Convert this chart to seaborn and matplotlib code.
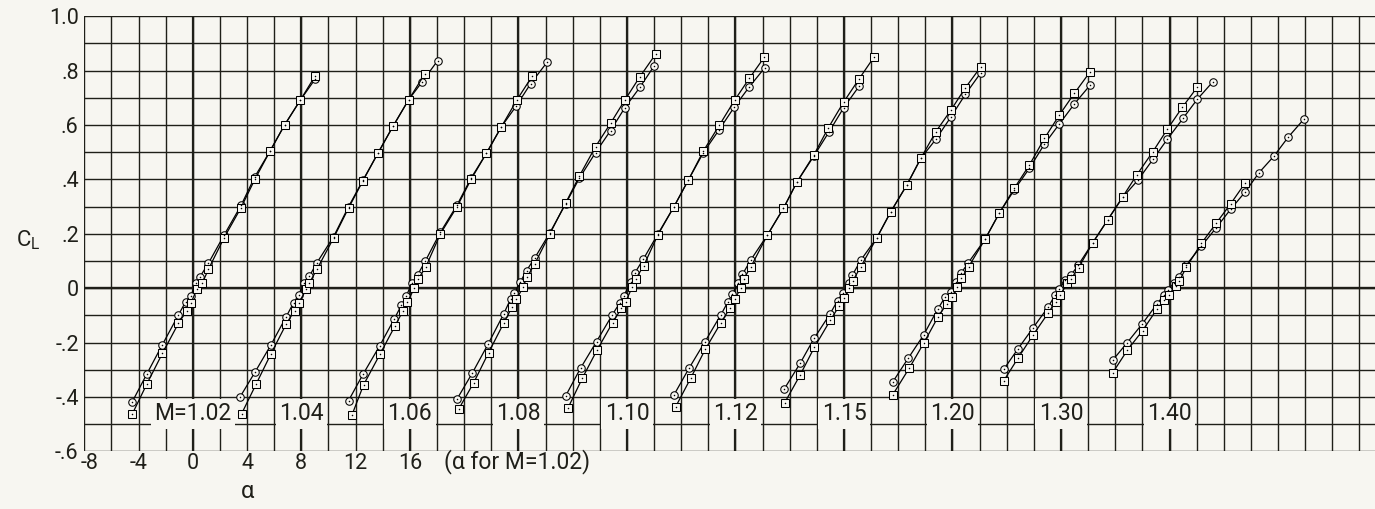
import numpy as np
import pandas as pd
import matplotlib
matplotlib.use("Agg")
import matplotlib.pyplot as plt
import matplotlib.transforms as mtransforms
import seaborn as sns

# Mach numbers of the runs; each curve is shifted 8 deg to the right of the previous one
MACH = ["1.02", "1.04", "1.06", "1.08", "1.10", "1.12", "1.15", "1.20", "1.30", "1.40"]
MACH_LABELS = ["M=1.02", "1.04", "1.06", "1.08", "1.10", "1.12", "1.15", "1.20", "1.30", "1.40"]

# circle symbols: angle of attack (deg) and lift coefficient
CIRCLE_ALPHA = {
    "1.02": [-4.46, -3.39, -2.24, -1.06, -0.52, -0.15, 0.24, 0.54, 1.15, 2.30, 3.56, 4.57, 5.70, 6.76, 7.93, 9.03],
    "1.04": [-4.51, -3.40, -2.24, -1.11, -0.57, -0.20, 0.21, 0.60, 1.15, 2.38, 3.48, 4.55, 5.65, 6.75, 7.91, 8.92, 10.05],
    "1.06": [-4.52, -3.45, -2.23, -1.14, -0.63, -0.26, 0.16, 0.58, 1.14, 2.25, 3.48, 4.51, 5.65, 6.75, 7.84, 8.90, 10.13],
    "1.08": [-4.52, -3.41, -2.23, -1.08, -0.58, -0.29, 0.15, 0.60, 1.19, 2.32, 3.48, 4.50, 5.69, 6.80, 7.85, 8.96, 10.00],
    "1.10": [-4.52, -3.42, -2.24, -1.08, -0.52, -0.22, 0.27, 0.57, 1.21, 2.29, 3.47, 4.53, 5.64, 6.79, 7.90, 9.03, 10.15],
    "1.12": [-4.53, -3.42, -2.24, -1.08, -0.54, -0.22, 0.19, 0.52, 1.13, 2.36, 3.54, 4.55, 5.78, 6.90, 7.97, 9.12],
    "1.15": [-4.41, -3.23, -2.20, -1.02, -0.47, -0.10, 0.34, 0.63, 1.25, 2.43, 3.46, 4.64, 5.67, 6.78, 7.90, 8.95, 10.10],
    "1.20": [-4.41, -3.26, -2.13, -1.09, -0.55, -0.11, 0.26, 0.63, 1.17, 2.40, 3.45, 4.56, 5.67, 6.78, 7.88, 8.99, 10.15],
    "1.30": [-4.22, -3.19, -2.08, -0.93, -0.44, -0.12, 0.30, 0.75, 1.28, 2.35, 3.45, 4.56, 5.68, 6.78, 7.84, 9.00, 10.05, 11.21],
    "1.40": [-4.18, -3.12, -2.01, -0.93, -0.42, -0.12, 0.32, 0.67, 1.23, 2.35, 3.45, 4.50, 5.59, 6.60, 7.70, 8.74, 9.89],
}
CIRCLE_CL = {
    "1.02": [-0.417, -0.315, -0.207, -0.098, -0.049, -0.028, 0.020, 0.043, 0.092, 0.195, 0.305, 0.410, 0.505, 0.600, 0.692, 0.770],
    "1.04": [-0.399, -0.307, -0.208, -0.104, -0.053, -0.025, 0.020, 0.045, 0.094, 0.190, 0.300, 0.398, 0.497, 0.595, 0.693, 0.760, 0.837],
    "1.06": [-0.413, -0.316, -0.212, -0.112, -0.063, -0.028, 0.020, 0.050, 0.100, 0.206, 0.306, 0.405, 0.497, 0.594, 0.670, 0.752, 0.832],
    "1.08": [-0.407, -0.313, -0.205, -0.094, -0.040, -0.018, 0.024, 0.065, 0.110, 0.204, 0.310, 0.405, 0.499, 0.580, 0.664, 0.739, 0.817],
    "1.10": [-0.396, -0.294, -0.196, -0.098, -0.053, -0.028, 0.024, 0.055, 0.107, 0.200, 0.300, 0.398, 0.499, 0.582, 0.665, 0.741, 0.810],
    "1.12": [-0.392, -0.294, -0.196, -0.098, -0.049, -0.021, 0.020, 0.051, 0.104, 0.196, 0.294, 0.392, 0.486, 0.575, 0.663, 0.743],
    "1.15": [-0.371, -0.276, -0.184, -0.094, -0.045, -0.018, 0.018, 0.049, 0.104, 0.186, 0.282, 0.380, 0.478, 0.548, 0.631, 0.713, 0.793],
    "1.20": [-0.345, -0.257, -0.172, -0.077, -0.033, -0.012, 0.024, 0.055, 0.094, 0.180, 0.276, 0.362, 0.441, 0.530, 0.604, 0.678, 0.747],
    "1.30": [-0.298, -0.224, -0.147, -0.068, -0.025, -0.004, 0.030, 0.049, 0.086, 0.168, 0.252, 0.335, 0.398, 0.474, 0.548, 0.625, 0.695, 0.760],
    "1.40": [-0.264, -0.200, -0.131, -0.058, -0.025, -0.006, 0.021, 0.043, 0.086, 0.155, 0.223, 0.290, 0.355, 0.425, 0.486, 0.555, 0.621],
}

# square symbols: angle of attack (deg) and lift coefficient
SQUARE_ALPHA = {
    "1.02": [-4.46, -3.39, -2.24, -1.06, -0.44, -0.15, 0.30, 0.69, 1.15, 2.30, 3.56, 4.57, 5.70, 6.76, 7.93, 9.03],
    "1.04": [-4.41, -3.33, -2.24, -1.11, -0.50, -0.20, 0.36, 0.60, 1.15, 2.38, 3.48, 4.55, 5.65, 6.75, 7.91, 9.10],
    "1.06": [-4.27, -3.41, -2.20, -1.10, -0.50, -0.18, 0.33, 0.60, 1.16, 2.25, 3.48, 4.51, 5.65, 6.75, 7.91, 9.02],
    "1.08": [-4.40, -3.29, -2.20, -1.06, -0.46, -0.14, 0.35, 0.62, 1.21, 2.32, 3.48, 4.50, 5.69, 6.80, 7.85, 8.96, 10.12],
    "1.10": [-4.35, -3.29, -2.20, -1.05, -0.41, -0.10, 0.40, 0.65, 1.23, 2.29, 3.47, 4.53, 5.64, 6.82, 7.95, 9.03, 10.12],
    "1.12": [-4.40, -3.30, -2.22, -1.06, -0.42, -0.05, 0.39, 0.60, 1.15, 2.36, 3.54, 4.55, 5.78, 6.86, 7.97, 9.12, 10.20],
    "1.15": [-4.36, -3.23, -2.18, -1.00, -0.35, 0.00, 0.40, 0.66, 1.25, 2.43, 3.46, 4.64, 5.67, 6.78, 7.90, 8.95, 10.10],
    "1.20": [-4.41, -3.19, -2.10, -1.05, -0.43, -0.05, 0.37, 0.66, 1.20, 2.40, 3.45, 4.56, 5.67, 6.78, 7.88, 8.99, 10.15],
    "1.30": [-4.22, -3.17, -2.06, -0.93, -0.40, -0.05, 0.45, 0.75, 1.30, 2.35, 3.45, 4.56, 5.59, 6.77, 7.83, 8.94, 10.04],
    "1.40": [-4.18, -3.10, -1.99, -0.93, -0.39, -0.05, 0.45, 0.70, 1.25, 2.35, 3.45, 4.50, 5.59],
}
SQUARE_CL = {
    "1.02": [-0.462, -0.352, -0.239, -0.129, -0.082, -0.055, -0.004, 0.018, 0.070, 0.185, 0.297, 0.400, 0.505, 0.600, 0.692, 0.782],
    "1.04": [-0.462, -0.352, -0.241, -0.131, -0.082, -0.055, -0.004, 0.020, 0.070, 0.185, 0.295, 0.396, 0.497, 0.595, 0.693, 0.788],
    "1.06": [-0.466, -0.355, -0.242, -0.139, -0.082, -0.050, 0.000, 0.033, 0.077, 0.200, 0.300, 0.400, 0.497, 0.594, 0.694, 0.780],
    "1.08": [-0.444, -0.347, -0.237, -0.126, -0.068, -0.040, 0.004, 0.040, 0.090, 0.200, 0.313, 0.413, 0.521, 0.607, 0.692, 0.778, 0.861],
    "1.10": [-0.441, -0.331, -0.227, -0.126, -0.074, -0.050, 0.005, 0.035, 0.082, 0.197, 0.300, 0.398, 0.505, 0.600, 0.692, 0.772, 0.849],
    "1.12": [-0.435, -0.331, -0.224, -0.126, -0.074, -0.040, 0.000, 0.033, 0.080, 0.196, 0.294, 0.392, 0.490, 0.591, 0.684, 0.770, 0.849],
    "1.15": [-0.420, -0.319, -0.217, -0.117, -0.065, -0.035, 0.000, 0.028, 0.080, 0.186, 0.282, 0.380, 0.478, 0.576, 0.656, 0.737, 0.815],
    "1.20": [-0.392, -0.294, -0.200, -0.104, -0.058, -0.032, 0.005, 0.037, 0.080, 0.180, 0.276, 0.368, 0.453, 0.551, 0.637, 0.717, 0.796],
    "1.30": [-0.340, -0.257, -0.172, -0.090, -0.049, -0.025, 0.018, 0.035, 0.076, 0.168, 0.252, 0.337, 0.417, 0.502, 0.584, 0.665, 0.739],
    "1.40": [-0.310, -0.227, -0.156, -0.077, -0.043, -0.025, 0.009, 0.025, 0.078, 0.165, 0.240, 0.310, 0.388],
}

X_TICKS = [-8, -4, 0, 4, 8, 12, 16]
X_TICK_LABELS = ["-8", "-4", "0", "4", "8", "12", "16"]
Y_TICKS = [1.0, 0.8, 0.6, 0.4, 0.2, 0.0, -0.2, -0.4, -0.6]
Y_TICK_LABELS = ["1.0", ".8", ".6", ".4", ".2", "0", "-.2", "-.4", "-.6"]

PAPER = "#f7f6f1"
INK = "#1f1f19"
SHIFT = 8.0  # deg between successive Mach curves

sns.set_theme(style="white")
plt.rcParams["font.family"] = ["Roboto", "DejaVu Sans"]
plt.rcParams["font.weight"] = "normal"

# long-form table: one row per plotted symbol
rows = []
for i, m in enumerate(MACH):
    for sym, A, C in (("circle", CIRCLE_ALPHA, CIRCLE_CL), ("square", SQUARE_ALPHA, SQUARE_CL)):
        for a, c in zip(A[m], C[m]):
            rows.append({"mach": m, "symbol": sym, "alpha": a + SHIFT * i, "CL": c})
df = pd.DataFrame(rows)
df["run"] = df["mach"] + "_" + df["symbol"]

fig = plt.figure(figsize=(13.75, 5.09), dpi=100, facecolor=PAPER)
x_lo, x_hi = -8.0, 87.25
ax = fig.add_axes([0.0613, 0.113, 1.0 - 0.0613 + 0.001, 0.855])
ax.set_facecolor(PAPER)
ax.set_xlim(x_lo, x_hi)
ax.set_ylim(-0.6, 1.0)

# graph-paper grid: 2 deg by 0.1 CL, heavier at CL = 0 and at each curve's alpha = 0
for xv in np.arange(-8, 88, 2):
    ax.axvline(xv, color=INK, lw=1.0, zorder=1)
for yv in np.round(np.arange(-0.6, 1.01, 0.1), 2):
    ax.axhline(yv, color=INK, lw=1.0, zorder=1)
for i in range(len(MACH)):
    ax.axvline(SHIFT * i, color=INK, lw=1.6, zorder=1)
ax.axhline(0.0, color=INK, lw=1.7, zorder=1)

# curves and symbols
sns.lineplot(data=df, x="alpha", y="CL", units="run", estimator=None, style="symbol",
             markers={"circle": "o", "square": "s"}, dashes=False, sort=True,
             color="black", lw=0.9, markersize=5.4, markerfacecolor=PAPER,
             markeredgecolor="black", markeredgewidth=0.75, legend=False, ax=ax, zorder=4)
sns.scatterplot(data=df, x="alpha", y="CL", marker="o", s=1.2, color="black",
                linewidth=0, legend=False, ax=ax, zorder=5)

# Mach labels along the bottom
for i, lab in enumerate(MACH_LABELS):
    ax.text(SHIFT * i, -0.462, lab, ha="center", va="center", fontsize=16.5,
            color=INK, zorder=6,
            bbox=dict(boxstyle="square,pad=0.15", fc=PAPER, ec="none"))

ax.set_xticks(X_TICKS)
ax.set_xticklabels(X_TICK_LABELS)
ax.set_yticks(Y_TICKS)
ax.set_yticklabels(Y_TICK_LABELS)
ax.tick_params(axis="both", length=0, labelsize=15.5, colors=INK)
ax.tick_params(axis="x", pad=1)
ax.tick_params(axis="y", pad=4)
for s in ax.spines.values():
    s.set_visible(False)
ax.grid(False)

# nudge the first alpha label clear of the lowest CL label
first = ax.get_xticklabels()[0]
first.set_transform(first.get_transform() +
                    mtransforms.ScaledTranslation(5 / 100, 0, fig.dpi_scale_trans))

ax.text(18.5, -0.637, "(\u03b1 for M=1.02)", ha="left", va="center", fontsize=16.5,
        color=INK, clip_on=False)
ax.set_xlabel("\u03b1", fontsize=17, color=INK)
ax.xaxis.set_label_coords(0.126, -0.065)
ax.set_ylabel("C$_\\mathregular{L}$", fontsize=16, color=INK, rotation=0, va="center", ha="center")
ax.yaxis.set_label_coords(-0.0436, 0.486)

fig.savefig("out.png", dpi=100, facecolor=PAPER)
